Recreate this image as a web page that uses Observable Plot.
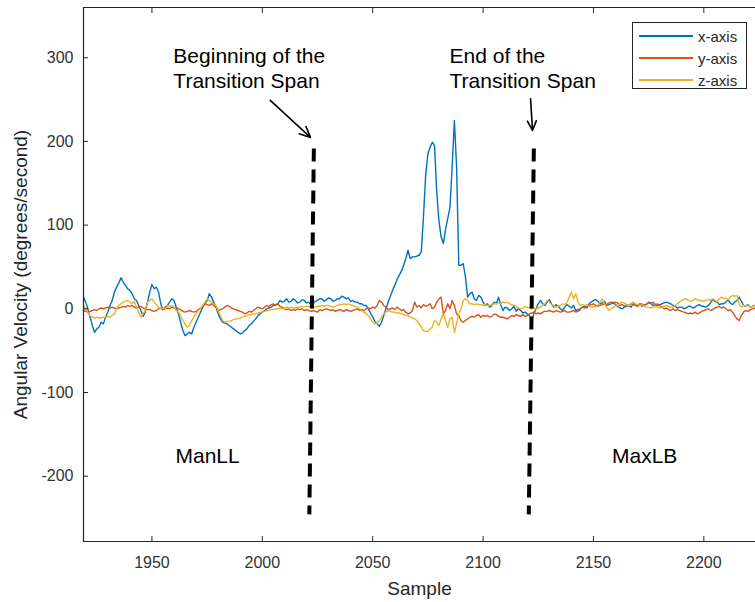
<!DOCTYPE html>
<html><head><meta charset="utf-8">
<script src="https://cdn.jsdelivr.net/npm/d3@7"></script>
<script src="https://cdn.jsdelivr.net/npm/@observablehq/plot@0.6"></script>
<style>
body{margin:0;background:#fff;}
#wrap{position:relative;width:755px;height:602px;font-family:"Liberation Sans",Arial,Helvetica,sans-serif;}
#legend{position:absolute;left:632px;top:22px;width:115px;height:67px;border:1px solid #262626;background:#fff;box-sizing:border-box;}
#legend .row{position:absolute;left:6px;height:18px;display:flex;align-items:center;font-size:15px;color:#262626;}
#legend .sw{width:54px;height:2px;margin-right:5px;}
</style></head><body><div id="wrap"></div>
<script>
const firstSample = 1919;
const xAxisValues = [
14,8,0,-10,-20,-28,-24,-22,-16,-18,
-10,-4,4,10,20,26,31,37,32,28,
24,22,18,12,10,4,-2,-9,-4,8,
20,29,24,26,20,6,-1,2,4,8,
12,10,2,-6,-16,-26,-32,-30,-28,-30,
-22,-16,-10,-4,2,6,10,18,14,8,
2,-6,-12,-16,-17,-18,-20,-22,-24,-26,
-28,-30,-29,-26,-24,-20,-18,-15,-12,-8,
-6,-4,-2,0,1,2,4,5,6,10,
8,9,12,8,9,12,10,7,8,11,
10,7,8,5,6,9,10,12,12,9,
11,13,12,9,10,12,12,15,14,12,
13,9,10,8,8,6,6,4,4,0,
-5,-10,-15,-18,-21,-16,-8,0,8,15,
22,28,35,40,45,52,60,70,60,62,
62,63,64,68,110,160,185,193,199,195,
140,105,86,78,95,108,121,170,225,170,
52,52,54,38,14,18,20,12,10,16,
14,8,4,6,2,4,8,6,14,5,
-2,2,1,-2,0,3,-3,0,-2,-5,
-4,-6,-8,-14,-6,0,6,10,6,4,
8,11,6,2,5,3,0,-2,2,5,
3,1,4,-2,-1,0,2,3,1,6,
8,10,11,9,6,7,9,4,5,6,
8,5,3,1,0,2,3,4,2,6,
4,4,6,3,5,5,8,7,4,5,
4,5,6,7,8,7,6,4,3,1,
2,2,0,1,3,3,1,2,4,5,
3,3,2,4,7,11,9,8,5,6,
6,8,11,7,5,8,10,14,9,4,
3,5,2,3,4];
const yAxisValues = [
-2,-3,-4,-3,-2,-1,-2,0,1,0,
1,2,1,2,1,0,1,2,3,2,
4,3,4,2,1,2,3,1,0,-1,
-1,-2,-3,-2,0,1,-1,0,1,0,
2,1,2,0,-1,-3,-4,-3,-2,-3,
-4,-3,-1,1,3,6,5,4,6,4,
2,-2,-1,0,2,4,3,1,0,-1,
-2,-3,-4,-6,-5,-3,-4,-2,0,2,
1,0,2,4,3,5,6,4,6,3,
2,0,-1,0,-2,-1,-2,0,-1,0,
-2,-1,-2,-3,-2,-3,-4,-1,-2,-1,
0,-1,-2,-1,-3,-2,-1,-2,-3,-1,
-2,-3,-2,-1,0,-2,-1,-2,0,1,
0,2,1,4,10,8,4,2,-1,0,
1,-1,2,0,-2,-1,-4,-6,-5,-2,
8,2,4,1,5,3,4,6,0,2,
8,12,14,-6,-2,6,0,10,4,-6,
-8,-14,-16,-14,-12,-10,-9,-10,-8,-7,
-10,-8,-9,-8,-10,-9,-6,-7,-9,-10,
-10,-11,-12,-10,-8,-9,-7,-8,-9,-7,
-9,-8,-6,-5,-4,-6,-5,-6,-4,-3,
-3,-2,-3,-4,-2,-3,-4,-3,-2,-4,
-4,-3,-2,-4,-3,-1,2,1,3,4,
5,6,4,3,4,5,6,5,7,8,
6,8,7,4,5,3,5,4,6,5,
4,3,5,6,4,6,7,6,8,5,
6,4,2,0,1,-1,-2,0,-2,-1,
-2,-3,-4,-5,-6,-5,-6,-4,-6,-5,
-3,-2,-1,0,-2,-1,1,2,3,1,
2,0,-2,-1,-4,-8,-12,-14,-8,-4,
-2,-3,-1,0,1];
const zAxisValues = [
4,0,-4,-8,-10,-11,-10,-11,-11,-10,
-10,-9,-10,-8,-6,0,4,6,8,9,
10,8,6,9,2,-4,-10,-6,-2,8,
10,12,8,5,2,0,1,0,4,3,
4,2,-2,-4,-8,-14,-18,-22,-20,-14,
-10,-6,-2,0,4,8,12,10,8,6,
4,-2,-8,-14,-16,-15,-15,-14,-13,-12,
-12,-11,-10,-9,-8,-7,-7,-6,-6,-5,
-4,-4,-3,-2,-2,-1,-1,0,0,1,
0,1,2,1,2,1,1,2,2,3,
2,3,3,2,1,2,3,3,4,3,
4,4,3,2,3,4,5,5,6,5,
6,5,4,3,2,0,-2,-4,-6,-8,
-12,-16,-18,-17,-14,-10,-6,-4,-2,-3,
-4,-4,-5,-5,-6,-7,-8,-8,-10,-11,
-12,-14,-18,-22,-26,-27,-27,-24,-22,-14,
-16,-20,-12,-6,-14,-22,-12,-10,-28,-18,
-6,0,10,12,10,6,6,5,6,5,
5,4,5,4,4,5,6,6,7,6,
8,7,8,6,5,4,3,1,0,1,
3,2,1,0,1,0,1,2,4,6,
10,8,5,4,2,3,4,6,5,8,
14,20,12,18,8,4,5,4,5,3,
2,3,2,4,8,12,6,2,-2,0,
2,3,4,6,8,7,5,4,6,8,
6,5,4,5,3,2,2,1,2,3,
2,1,2,3,4,3,2,2,4,6,
8,10,11,12,10,9,10,12,11,10,
10,9,10,11,10,12,10,9,12,14,
12,13,11,14,16,15,16,6,2,4,
3,4,2,3,4];
const seriesNames = ["x-axis", "y-axis", "z-axis"];
const seriesColors = ["#0072BD", "#D95319", "#EDB120"];
const xTicks = [1950, 2000, 2050, 2100, 2150, 2200];
const yTicks = [-200, -100, 0, 100, 200, 300];
const xDomain = [1919, 2223.4];
const yDomain = [-278, 360];
// transition span dashed markers (top/bottom ends)
const spanTopX = [2023.35, 2123.0];
const spanTopY = [191.6, 191.6];
const spanBottomX = [2021.3, 2120.7];
const spanBottomY = [-245.6, -245.6];
// annotation texts
const noteTexts = ["Beginning of the\nTransition Span", "End of the\nTransition Span"];
const noteX = [1959.7, 2084.8];
const noteY = [287.8, 287.8];
// arrows
const arrowX1 = [2003.6, 2121.5];
const arrowY1 = [249, 251];
const arrowX2 = [2021.8, 2122.4];
const arrowY2 = [204.8, 213];
// region labels
const regionLabels = ["ManLL", "MaxLB"];
const regionX = [1975.2, 2173.2];
const regionY = [-176, -176];
const xLabel = "Sample";
const yLabel = "Angular Velocity (degrees/second)";

const valuesBySeries = [xAxisValues, yAxisValues, zAxisValues];
const rows = valuesBySeries.flatMap((vals, s) =>
  vals.map((v, i) => ({series: seriesNames[s], sample: firstSample + i, value: v})));
const spans = spanTopX.map((_, i) => ({x1: spanTopX[i], y1: spanTopY[i], x2: spanBottomX[i], y2: spanBottomY[i]}));
const notes = noteTexts.map((t, i) => ({text: t, x: noteX[i], y: noteY[i]}));
const arrows = arrowX1.map((_, i) => ({x1: arrowX1[i], y1: arrowY1[i], x2: arrowX2[i], y2: arrowY2[i]}));
const regions = regionLabels.map((t, i) => ({text: t, x: regionX[i], y: regionY[i]}));

const axisColor = "#262626";
const plainFormat = d => String(d);
const chart = Plot.plot({
  width: 755, height: 602,
  marginLeft: 83, marginTop: 7, marginBottom: 61, marginRight: 0,
  x: {domain: xDomain},
  y: {domain: yDomain},
  color: {domain: seriesNames, range: seriesColors},
  style: {fontFamily: '"Liberation Sans", Arial, Helvetica, sans-serif', fontSize: "16px", color: "#333", background: "#fff", overflow: "visible"},
  marks: [
    Plot.line(rows, {x: "sample", y: "value", z: "series", stroke: "series", strokeWidth: 1.4}),
    Plot.link(spans, {x1: "x1", y1: "y1", x2: "x2", y2: "y2", stroke: "black", strokeWidth: 4, strokeDasharray: "13,8"}),
    Plot.arrow(arrows, {x1: "x1", y1: "y1", x2: "x2", y2: "y2", stroke: "black", strokeWidth: 1.6, headLength: 11, headAngle: 50}),
    Plot.text(notes, {x: "x", y: "y", text: "text", textAnchor: "start", lineAnchor: "middle", fontSize: 21, lineHeight: 1.19, fill: "black"}),
    Plot.text(regions, {x: "x", y: "y", text: "text", textAnchor: "middle", lineAnchor: "middle", fontSize: 21, fill: "black"}),
    Plot.ruleY([yDomain[1]], {stroke: axisColor, strokeWidth: 1.2}),
    Plot.ruleY([yDomain[0]], {stroke: axisColor, strokeWidth: 1.2}),
    Plot.ruleX([xDomain[0]], {stroke: axisColor, strokeWidth: 1.2}),
    Plot.axisX({ticks: xTicks, anchor: "bottom", tickSize: -5, tickPadding: 20, label: null, stroke: axisColor, tickFormat: plainFormat}),
    Plot.axisX({ticks: xTicks, anchor: "top", tickSize: -5, tickFormat: () => "", label: null, stroke: axisColor}),
    Plot.axisY({ticks: yTicks, anchor: "left", tickSize: -5, tickPadding: 15, label: null, stroke: axisColor, tickFormat: plainFormat}),
    Plot.text([xLabel], {frameAnchor: "bottom", dy: 47, lineAnchor: "middle", fontSize: 19, fill: axisColor}),
    Plot.text([yLabel], {frameAnchor: "left", dx: -63, rotate: -90, lineAnchor: "middle", textAnchor: "middle", fontSize: 19, fill: axisColor})
  ]
});
const wrap = document.getElementById("wrap");
wrap.appendChild(chart);

const legend = document.createElement("div");
legend.id = "legend";
const rowTops = [4, 26, 48];
seriesNames.forEach((name, i) => {
  const r = document.createElement("div");
  r.className = "row";
  r.style.top = rowTops[i] + "px";
  const sw = document.createElement("div");
  sw.className = "sw";
  sw.style.background = seriesColors[i];
  const lab = document.createElement("span");
  lab.textContent = name;
  r.appendChild(sw); r.appendChild(lab);
  legend.appendChild(r);
});
wrap.appendChild(legend);
</script></body></html>
